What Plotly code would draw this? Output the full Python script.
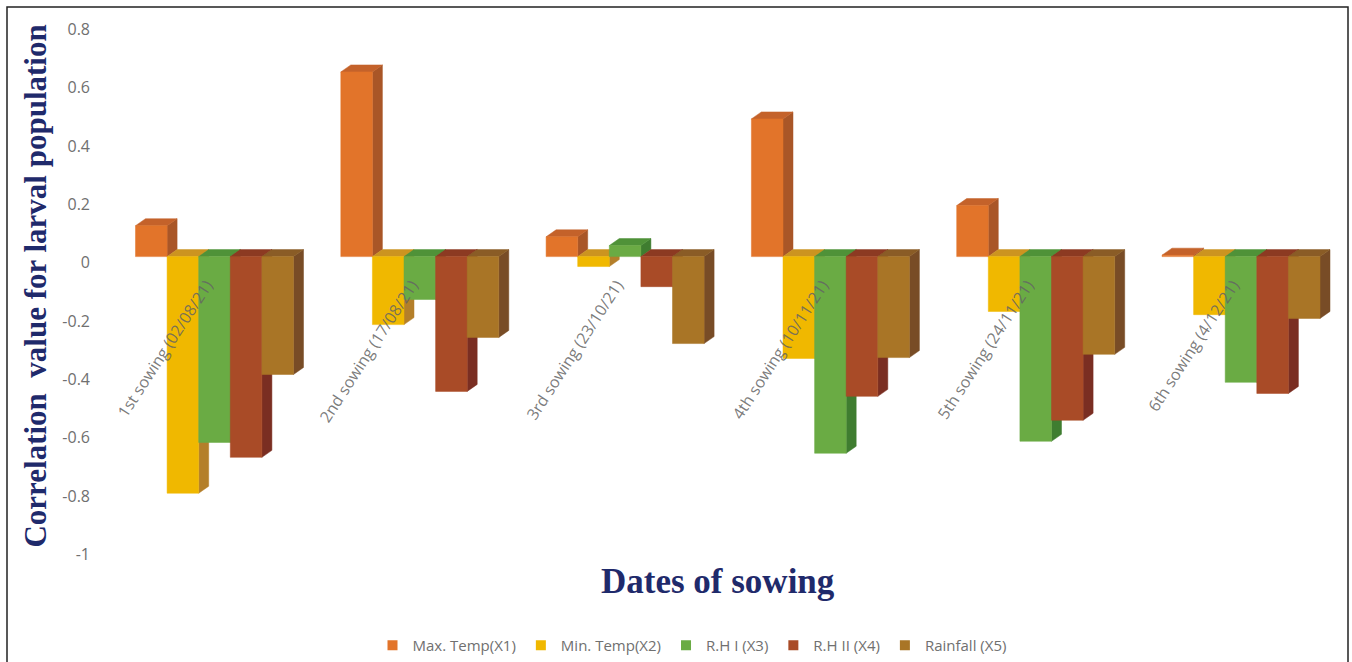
import plotly.graph_objects as go

W, H = 1352, 662

categories = ["1st sowing (02/08/21)", "2nd sowing (17/08/21)", "3rd sowing (23/10/21)",
              "4th sowing (10/11/21)", "5th sowing (24/11/21)", "6th sowing (4/12/21)"]
max_temp = [0.106, 0.633, 0.068, 0.472, 0.175, 0.005]
min_temp = [-0.811, -0.233, -0.034, -0.349, -0.188, -0.199]
rh_one = [-0.637, -0.147, 0.038, -0.674, -0.633, -0.431]
rh_two = [-0.688, -0.462, -0.103, -0.479, -0.561, -0.469]
rainfall = [-0.404, -0.277, -0.298, -0.346, -0.335, -0.212]
series_names = ["Max. Temp(X1)", "Min. Temp(X2)", "R.H I (X3)", "R.H II (X4)", "Rainfall (X5)"]
y_ticks = [0.8, 0.6, 0.4, 0.2, 0, -0.2, -0.4, -0.6, -0.8, -1]
y_tick_labels = ["0.8", "0.6", "0.4", "0.2", "0", "-0.2", "-0.4", "-0.6", "-0.8", "-1"]

series = [max_temp, min_temp, rh_one, rh_two, rainfall]
front_colors = ["#E2742A", "#F0B800", "#6AAB44", "#A94B27", "#A97526"]
top_colors = ["#C4622A", "#CC9420", "#4F9238", "#8C3A22", "#8A5C26"]
side_colors = ["#A95627", "#B47F2A", "#3F7D30", "#7A2E22", "#784C26"]

PX_PER_Y = 292.2
PX_PER_X = 205.3
BAR_W = 31.6 / PX_PER_X
DEPTH_X = 10 / PX_PER_X
DEPTH_Y = 7 / PX_PER_Y
FRONT_RISE = 6 / PX_PER_Y
LABEL_SHIFT = -8 / PX_PER_X

def px_x(p):
    return p / W

def px_y(p):
    return 1 - p / H

PLOT_L, PLOT_R, PLOT_T, PLOT_B = 90, 1340, 10, 600
GROUP0 = 214.5
ZERO_Y = 263

fig = go.Figure()

for name, c in zip(series_names, front_colors):
    fig.add_trace(go.Scatter(x=[None], y=[None], mode="markers", name=name,
                             marker=dict(symbol="square", size=10, color=c)))

for j in range(5):
    fx, fy, tx, ty, sx, sy = [], [], [], [], [], []
    for i, v in enumerate(series[j]):
        x0 = i + (j - 2.5) * BAR_W
        x1 = x0 + BAR_W
        base = FRONT_RISE
        val = v + FRONT_RISE
        hi = max(base, val)
        fx += [x0, x1, x1, x0, x0, None]
        fy += [base, base, val, val, base, None]
        tx += [x0, x1, x1 + DEPTH_X, x0 + DEPTH_X, x0, None]
        ty += [hi, hi, hi + DEPTH_Y, hi + DEPTH_Y, hi, None]
        sx += [x1, x1 + DEPTH_X, x1 + DEPTH_X, x1, x1, None]
        sy += [hi, hi + DEPTH_Y, min(base, val) + DEPTH_Y, min(base, val), hi, None]
    for xs, ys, col in [(sx, sy, side_colors[j]), (tx, ty, top_colors[j]), (fx, fy, front_colors[j])]:
        fig.add_trace(go.Scatter(x=xs, y=ys, mode="lines", fill="toself", fillcolor=col,
                                 line=dict(width=0.5, color=col), hoverinfo="skip", showlegend=False))

fig.update_layout(
    width=W, height=H, margin=dict(l=0, r=0, t=0, b=0),
    paper_bgcolor="white", plot_bgcolor="white",
    showlegend=True,
    legend=dict(orientation="h", x=px_x(692), xanchor="center", y=px_y(630), yanchor="top",
                font=dict(family="Open Sans", size=15, color="#707070"),
                itemwidth=30, bgcolor="rgba(0,0,0,0)"),
    xaxis=dict(domain=[px_x(PLOT_L), px_x(PLOT_R)],
               range=[(PLOT_L - GROUP0) / PX_PER_X, (PLOT_R - GROUP0) / PX_PER_X],
               tickmode="array", tickvals=[i + LABEL_SHIFT for i in range(6)], ticktext=categories,
               tickangle=-57, ticks="outside", ticklen=6, tickcolor="rgba(0,0,0,0)",
               tickfont=dict(family="Open Sans", size=16, color="rgba(100,100,100,0.85)"),
               showgrid=False, zeroline=False, showline=False,
               anchor="free", position=px_y(ZERO_Y)),
    yaxis=dict(domain=[px_y(PLOT_B), px_y(PLOT_T)],
               range=[(ZERO_Y - PLOT_B) / PX_PER_Y, (ZERO_Y - PLOT_T) / PX_PER_Y],
               tickmode="array", tickvals=y_ticks, ticktext=y_tick_labels,
               tickfont=dict(family="Open Sans", size=16, color="#707070"),
               ticks="", showgrid=False, zeroline=False, showline=False,
               anchor="free", position=px_x(PLOT_L)),
    shapes=[dict(type="path", xref="paper", yref="paper", layer="above",
                 path=f"M {px_x(7)} -0.1 L {px_x(7)} {px_y(7)} L {px_x(1348)} {px_y(7)} L {px_x(1348)} -0.1",
                 line=dict(color="#222222", width=1.5))],
    annotations=[
        dict(text="<b>Correlation  value for larval population</b>", xref="paper", yref="paper",
             x=px_x(36), y=px_y(287), xanchor="center", yanchor="middle", showarrow=False, textangle=-90,
             font=dict(family="Liberation Serif", size=31, color="#1F2A6B")),
        dict(text="<b>Dates of sowing</b>", xref="paper", yref="paper",
             x=px_x(718), y=px_y(582), xanchor="center", yanchor="middle", showarrow=False,
             font=dict(family="Liberation Serif", size=35, color="#1F2A6B")),
    ],
)

fig.write_html("out.html", post_script="document.body.style.margin='0';",
               config=dict(displayModeBar=False))
